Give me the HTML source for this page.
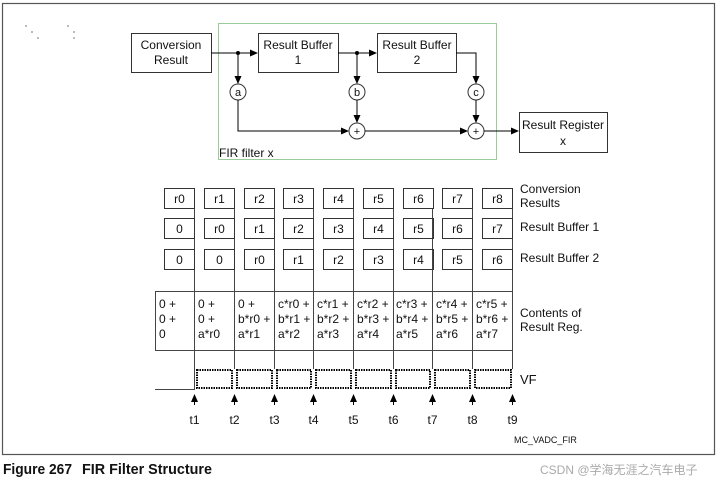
<!DOCTYPE html>
<html><head><meta charset="utf-8"><style>
html,body{margin:0;padding:0;background:#fff;}
svg{display:block;font-family:"Liberation Sans",Arial,sans-serif;}
</style></head><body>
<svg width="719" height="481" viewBox="0 0 719 481" xmlns="http://www.w3.org/2000/svg">
<defs><marker id="ar" markerWidth="8" markerHeight="8" refX="7" refY="4" orient="auto" markerUnits="userSpaceOnUse"><path d="M0,0.5 L8,4 L0,7.5z" fill="#000"/></marker></defs>
<rect x="2.5" y="3.5" width="712" height="451" fill="none" stroke="#555" stroke-width="1.2"/>
<g fill="#bbb"><rect x="25" y="25" width="2" height="2"/><rect x="31" y="31" width="2" height="2"/><rect x="37" y="37" width="2" height="2"/><rect x="67" y="25" width="2" height="2"/><rect x="73" y="31" width="2" height="2"/><rect x="73" y="37" width="2" height="2"/></g>
<rect x="218.5" y="23.5" width="278" height="136" fill="none" stroke="#9c9" stroke-width="1"/>
<g fill="none" stroke="#333" stroke-width="1">
<rect x="131.5" y="33.5" width="80" height="39"/>
<rect x="258.5" y="33.5" width="80" height="39"/>
<rect x="377.5" y="33.5" width="79" height="39"/>
<rect x="519.5" y="112.5" width="88" height="40"/>
<circle cx="238" cy="92" r="8"/><circle cx="357" cy="92" r="8"/><circle cx="476" cy="92" r="8"/>
<circle cx="357" cy="131" r="8"/><circle cx="476" cy="131" r="8"/>
</g>
<g stroke="#000" stroke-width="1" fill="none">
<line x1="211" y1="53" x2="257" y2="53" marker-end="url(#ar)"/>
<line x1="338" y1="53" x2="376" y2="53" marker-end="url(#ar)"/>
<line x1="238" y1="53" x2="238" y2="83" marker-end="url(#ar)"/>
<line x1="357" y1="53" x2="357" y2="83" marker-end="url(#ar)"/>
<polyline points="456,53 476,53 476,83" marker-end="url(#ar)"/>
<polyline points="238,100 238,131 348,131" marker-end="url(#ar)"/>
<line x1="357" y1="100" x2="357" y2="122" marker-end="url(#ar)"/>
<line x1="476" y1="100" x2="476" y2="122" marker-end="url(#ar)"/>
<line x1="365" y1="131" x2="467" y2="131" marker-end="url(#ar)"/>
<line x1="484" y1="131" x2="518" y2="131" marker-end="url(#ar)"/>
</g>
<circle cx="238" cy="53" r="2" fill="#000"/><circle cx="357" cy="53" r="2" fill="#000"/>
<g font-size="12" fill="#111" text-anchor="middle">
<text x="171" y="49">Conversion</text><text x="171" y="64">Result</text>
<text x="298" y="49">Result Buffer</text><text x="298" y="64">1</text>
<text x="417" y="49">Result Buffer</text><text x="417" y="64">2</text>
<text x="563" y="129">Result Register</text><text x="563" y="145">x</text>
<text x="238" y="96" font-size="11">a</text><text x="357" y="96" font-size="11">b</text><text x="476" y="96" font-size="11">c</text>
<text x="357" y="135" font-size="11">+</text><text x="476" y="135" font-size="11">+</text>
</g>
<text x="219" y="157" font-size="12" fill="#111">FIR filter x</text>
<g stroke="#444" stroke-width="1" fill="none">
<line x1="194.5" y1="208" x2="194.5" y2="389"/><line x1="234.5" y1="208" x2="234.5" y2="369"/><line x1="274.5" y1="208" x2="274.5" y2="369"/><line x1="313.5" y1="208" x2="313.5" y2="369"/><line x1="353.5" y1="208" x2="353.5" y2="369"/><line x1="393.5" y1="208" x2="393.5" y2="369"/><line x1="432.5" y1="208" x2="432.5" y2="369"/><line x1="472.5" y1="208" x2="472.5" y2="369"/><line x1="512.5" y1="208" x2="512.5" y2="369"/>
<rect x="155.5" y="291.5" width="357" height="59"/>
<polyline points="155,389.5 194.5,389.5 194.5,369"/>
</g>
<g stroke="#333" stroke-width="1" fill="none">
<rect x="164.5" y="188.5" width="30" height="20"/><rect x="204.5" y="188.5" width="30" height="20"/><rect x="244.5" y="188.5" width="30" height="20"/><rect x="283.5" y="188.5" width="30" height="20"/><rect x="323.5" y="188.5" width="30" height="20"/><rect x="363.5" y="188.5" width="30" height="20"/><rect x="403.5" y="188.5" width="30" height="20"/><rect x="442.5" y="188.5" width="30" height="20"/><rect x="482.5" y="188.5" width="30" height="20"/>
<rect x="164.5" y="218.5" width="30" height="20"/><rect x="204.5" y="218.5" width="30" height="20"/><rect x="244.5" y="218.5" width="30" height="20"/><rect x="283.5" y="218.5" width="30" height="20"/><rect x="323.5" y="218.5" width="30" height="20"/><rect x="363.5" y="218.5" width="30" height="20"/><rect x="403.5" y="218.5" width="30" height="20"/><rect x="442.5" y="218.5" width="30" height="20"/><rect x="482.5" y="218.5" width="30" height="20"/>
<rect x="164.5" y="249.5" width="30" height="20"/><rect x="204.5" y="249.5" width="30" height="20"/><rect x="244.5" y="249.5" width="30" height="20"/><rect x="283.5" y="249.5" width="30" height="20"/><rect x="323.5" y="249.5" width="30" height="20"/><rect x="363.5" y="249.5" width="30" height="20"/><rect x="403.5" y="249.5" width="30" height="20"/><rect x="442.5" y="249.5" width="30" height="20"/><rect x="482.5" y="249.5" width="30" height="20"/>
</g>
<g stroke="#000" stroke-width="2" fill="none" stroke-dasharray="1.5,1">
<rect x="197" y="370" width="35" height="18"/><rect x="237" y="370" width="35" height="18"/><rect x="277" y="370" width="34" height="18"/><rect x="316" y="370" width="35" height="18"/><rect x="356" y="370" width="35" height="18"/><rect x="396" y="370" width="34" height="18"/><rect x="435" y="370" width="35" height="18"/><rect x="475" y="370" width="36" height="18"/>
</g>
<g font-size="12" fill="#111" text-anchor="middle">
<text x="179.5" y="203">r0</text><text x="219.5" y="203">r1</text><text x="259.5" y="203">r2</text><text x="298.5" y="203">r3</text><text x="338.5" y="203">r4</text><text x="378.5" y="203">r5</text><text x="418.5" y="203">r6</text><text x="457.5" y="203">r7</text><text x="497.5" y="203">r8</text>
<text x="179.5" y="233">0</text><text x="219.5" y="233">r0</text><text x="259.5" y="233">r1</text><text x="298.5" y="233">r2</text><text x="338.5" y="233">r3</text><text x="378.5" y="233">r4</text><text x="418.5" y="233">r5</text><text x="457.5" y="233">r6</text><text x="497.5" y="233">r7</text>
<text x="179.5" y="264">0</text><text x="219.5" y="264">0</text><text x="259.5" y="264">r0</text><text x="298.5" y="264">r1</text><text x="338.5" y="264">r2</text><text x="378.5" y="264">r3</text><text x="418.5" y="264">r4</text><text x="457.5" y="264">r5</text><text x="497.5" y="264">r6</text>
</g>
<g font-size="12" fill="#111">
<text x="159" y="308">0 +</text><text x="159" y="323">0 +</text><text x="159" y="338">0</text>
<text x="198" y="308">0 +</text><text x="198" y="323">0 +</text><text x="198" y="338">a*r0</text>
<text x="238" y="308">0 +</text><text x="238" y="323">b*r0 +</text><text x="238" y="338">a*r1</text>
<text x="278" y="308">c*r0 +</text><text x="278" y="323">b*r1 +</text><text x="278" y="338">a*r2</text>
<text x="317" y="308">c*r1 +</text><text x="317" y="323">b*r2 +</text><text x="317" y="338">a*r3</text>
<text x="357" y="308">c*r2 +</text><text x="357" y="323">b*r3 +</text><text x="357" y="338">a*r4</text>
<text x="396" y="308">c*r3 +</text><text x="396" y="323">b*r4 +</text><text x="396" y="338">a*r5</text>
<text x="436" y="308">c*r4 +</text><text x="436" y="323">b*r5 +</text><text x="436" y="338">a*r6</text>
<text x="476" y="308">c*r5 +</text><text x="476" y="323">b*r6 +</text><text x="476" y="338">a*r7</text>
<text x="520" y="193">Conversion</text><text x="520" y="207">Results</text>
<text x="520" y="231">Result Buffer 1</text>
<text x="520" y="262">Result Buffer 2</text>
<text x="520" y="317">Contents of</text><text x="520" y="331">Result Reg.</text>
<text x="520" y="384" font-size="13">VF</text>
</g>
<g stroke="#000" stroke-width="1" fill="none">
<line x1="194.5" y1="405" x2="194.5" y2="395" marker-end="url(#ar)"/><line x1="234.5" y1="405" x2="234.5" y2="395" marker-end="url(#ar)"/><line x1="274.5" y1="405" x2="274.5" y2="395" marker-end="url(#ar)"/><line x1="313.5" y1="405" x2="313.5" y2="395" marker-end="url(#ar)"/><line x1="353.5" y1="405" x2="353.5" y2="395" marker-end="url(#ar)"/><line x1="393.5" y1="405" x2="393.5" y2="395" marker-end="url(#ar)"/><line x1="432.5" y1="405" x2="432.5" y2="395" marker-end="url(#ar)"/><line x1="472.5" y1="405" x2="472.5" y2="395" marker-end="url(#ar)"/><line x1="512.5" y1="405" x2="512.5" y2="395" marker-end="url(#ar)"/>
</g>
<g font-size="12" fill="#111" text-anchor="middle">
<text x="194.5" y="424">t1</text><text x="234.5" y="424">t2</text><text x="274.5" y="424">t3</text><text x="313.5" y="424">t4</text><text x="353.5" y="424">t5</text><text x="393.5" y="424">t6</text><text x="432.5" y="424">t7</text><text x="472.5" y="424">t8</text><text x="512.5" y="424">t9</text>
</g>
<text x="514" y="443" font-size="9" fill="#111">MC_VADC_FIR</text>
<text x="3" y="474" font-size="15" font-weight="bold" fill="#111" textLength="69" lengthAdjust="spacingAndGlyphs">Figure 267</text>
<text x="82" y="474" font-size="15" font-weight="bold" fill="#111" textLength="130" lengthAdjust="spacingAndGlyphs">FIR Filter Structure</text>
<text x="540" y="474" font-size="12" fill="#aaa" font-family="'Liberation Sans','Noto Sans CJK SC',sans-serif">CSDN @学海无涯之汽车电子</text>
</svg>
</body></html>
